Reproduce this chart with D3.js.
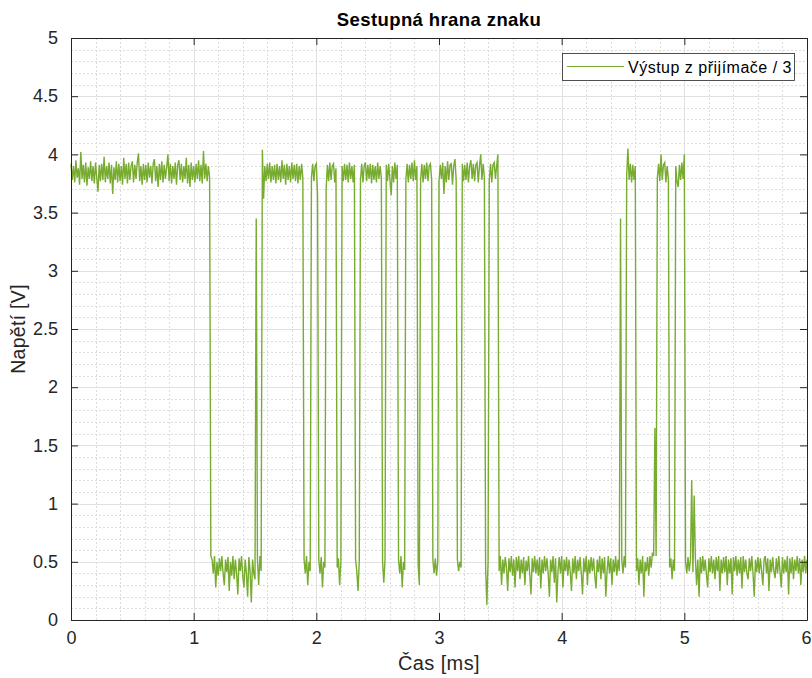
<!DOCTYPE html>
<html>
<head>
<meta charset="utf-8">
<script src="https://cdn.jsdelivr.net/npm/d3@7"></script>
<style>
  body { margin: 0; background: #fff; }
  svg { display: block; font-family: "Liberation Sans", Arial, sans-serif; }
</style>
</head>
<body>
<div id="chart"></div>
<script>
// vzorkovani osciloskopu (ms)
var casKrok = 0.01;

// Výstup z přijímače / 3, jeden vzorek na kazdych 0.01 ms (0 .. 6 ms)
var napeti = [
  // 0 - 1.13 ms, H
  3.92,3.78,3.90,3.76,3.95,3.80,3.88,3.74,4.02,3.79,
  3.91,3.76,3.93,3.73,3.89,3.79,3.94,3.77,3.90,3.75,
  3.93,3.80,3.68,3.91,3.77,3.92,3.78,3.98,3.76,3.90,
  3.79,3.93,3.75,3.91,3.66,3.89,3.78,3.94,3.76,3.92,
  3.77,3.90,3.74,3.97,3.79,3.92,3.75,3.93,3.78,3.90,
  3.94,3.76,3.91,3.79,3.93,4.01,3.77,3.90,3.74,3.92,
  3.78,3.91,3.76,3.93,3.80,3.90,3.75,3.92,3.96,3.77,
  3.90,3.72,3.92,3.78,3.94,3.76,3.91,3.79,3.89,4.00,
  3.77,3.92,3.75,3.90,3.79,3.93,3.74,3.91,3.95,3.78,
  3.92,3.76,3.90,3.79,3.97,3.75,3.91,3.72,3.93,3.78,
  3.90,3.76,3.92,3.79,3.95,3.77,3.91,3.75,4.03,3.79,
  3.92,3.77,3.90,3.80,
  // 1.14 - 1.55 ms, L (s jednou spickou)
  0.55,
  0.52,0.40,0.55,0.28,0.50,0.38,0.53,0.42,0.55,0.40,
  0.30,0.52,0.41,0.54,0.25,0.50,0.38,0.55,0.35,0.52,
  0.40,0.22,0.53,0.42,0.55,0.38,0.28,0.52,0.40,0.20,
  0.54,0.42,0.15,0.52,0.40,0.35,
  3.45,
  0.52,0.30,0.55,0.42,
  // 1.56 - 1.89 ms, H
  4.04,3.62,
  3.90,3.77,3.92,3.79,3.93,3.76,3.90,3.78,3.91,3.75,
  3.92,3.78,3.90,3.76,3.95,3.79,3.91,3.74,3.92,3.78,
  3.90,3.76,3.93,3.79,3.91,3.77,3.92,3.75,3.90,3.78,3.92,3.80,
  // 1.90 - 3.48 ms, datove bity
  0.52,0.40,0.55,0.30,0.50,0.42,
  3.80,3.92,3.77,3.90,3.92,3.65,
  0.52,0.40,0.54,0.28,0.50,0.45,
  3.70,3.91,3.77,3.93,3.78,3.90,3.92,3.76,3.88,
  0.45,0.53,0.30,0.50,
  3.90,3.77,3.92,3.78,3.91,3.76,3.93,3.79,3.90,3.76,3.91,
  0.52,0.42,0.25,0.50,
  3.78,3.92,3.76,3.90,3.93,3.77,3.91,3.79,3.92,3.75,3.91,3.78,3.90,3.76,3.93,3.79,3.90,3.80,
  0.50,0.32,0.52,
  3.91,3.77,3.92,3.78,3.65,3.90,3.76,3.93,3.79,3.91,
  0.52,0.40,0.55,0.28,0.50,0.43,
  3.78,3.92,3.76,3.91,3.79,3.93,3.77,3.95,3.78,3.90,
  0.48,0.30,
  3.78,3.92,3.76,3.91,3.79,3.93,3.77,3.90,3.92,3.78,
  0.52,0.40,0.53,0.38,0.50,
  3.77,3.91,3.79,3.93,3.66,3.90,3.76,3.94,3.78,3.91,3.92,3.74,3.90,3.96,3.78,
  0.52,0.42,0.50,0.45,
  3.92,3.77,3.91,3.78,3.93,3.76,3.90,3.95,3.79,3.92,3.77,3.91,3.93,3.76,3.90,4.00,3.78,3.92,3.80,
  0.45,0.13,0.50,
  3.78,3.92,3.76,3.91,3.93,3.79,3.90,4.00,
  // 3.49 - 4.52 ms, L
  0.42,0.55,0.30,0.52,0.40,0.54,0.45,0.25,0.53,0.41,
  0.55,0.38,0.52,0.28,0.54,0.42,0.55,0.35,0.52,0.40,
  0.54,0.30,0.51,0.42,0.55,0.39,0.22,0.53,0.41,0.55,
  0.40,0.52,0.38,0.54,0.27,0.52,0.40,0.55,0.42,0.53,
  0.40,0.20,0.52,0.41,0.55,0.32,0.53,0.15,0.42,0.54,
  0.40,0.55,0.28,0.52,0.42,0.54,0.38,0.52,0.41,0.25,
  0.53,0.40,0.55,0.35,0.52,0.42,0.54,0.40,0.22,0.53,
  0.41,0.55,0.30,0.52,0.40,0.54,0.42,0.53,0.38,0.27,
  0.52,0.41,0.55,0.35,0.53,0.40,0.54,0.20,0.42,0.55,
  0.40,0.53,0.30,0.52,0.41,0.55,0.38,0.52,0.42,
  3.45,
  0.52,0.40,0.55,0.45,
  // 4.53 - 5.00 ms
  3.82,4.05,3.78,3.92,3.76,3.91,3.78,3.90,
  0.42,0.53,0.30,0.52,0.40,0.55,0.20,0.50,0.42,0.54,0.38,0.55,0.45,0.58,0.55,
  1.65,0.55,
  3.80,3.92,3.77,4.00,3.78,3.91,3.93,3.76,3.90,3.79,
  0.45,0.53,0.35,0.52,0.42,
  3.90,3.77,3.72,3.91,3.78,3.93,3.79,4.00,
  // 5.01 - 6.00 ms, L
  0.50,0.40,0.54,0.42,0.52,1.20,0.41,1.07,0.53,0.30,
  0.52,0.20,0.54,0.40,0.55,0.42,0.52,0.39,0.28,0.53,
  0.41,0.55,0.40,0.52,0.35,0.54,0.42,0.55,0.25,0.52,
  0.40,0.54,0.41,0.55,0.30,0.52,0.40,0.53,0.22,0.54,
  0.42,0.55,0.38,0.52,0.40,0.54,0.27,0.55,0.41,0.52,
  0.40,0.35,0.53,0.42,0.55,0.40,0.20,0.52,0.41,0.54,
  0.40,0.53,0.42,0.30,0.52,0.55,0.40,0.53,0.25,0.52,
  0.41,0.54,0.42,0.36,0.53,0.40,0.55,0.42,0.28,0.54,
  0.40,0.52,0.41,0.55,0.22,0.53,0.40,0.54,0.35,0.52,
  0.42,0.55,0.40,0.53,0.30,0.52,0.41,0.55,0.40,0.52
];

var xTicks = [0, 1, 2, 3, 4, 5, 6];
var yTicks = [0, 0.5, 1, 1.5, 2, 2.5, 3, 3.5, 4, 4.5, 5];
var xMinor = [0.2, 0.4, 0.6, 0.8];   // uvnitr kazdeho dilku
var yMinor = [0.1, 0.2, 0.3, 0.4];

var titulek = "Sestupná hrana znaku";
var popisX = "Čas [ms]";
var popisY = "Napětí [V]";
var legenda = "Výstup z přijímače / 3";

function drawChart() {
    if (napeti.length !== 601) console.error("napeti: " + napeti.length + " vzorku");

    var margin = {top: 38, right: 5, bottom: 58, left: 71};
    var W = 812, H = 678;
    var width = W - margin.left - margin.right;
    var height = H - margin.top - margin.bottom;
    var axisColor = "#262626";
    var lineColor = "#77AC30";

    var svg = d3.select("#chart").append("svg")
        .attr("width", W)
        .attr("height", H);

    var g = svg.append("g")
        .attr("transform", "translate(" + margin.left + "," + margin.top + ")");

    var x = d3.scaleLinear().domain([0, 6]).range([0, width]);
    var y = d3.scaleLinear().domain([0, 5]).range([height, 0]);

    // vedlejsi mrizka
    var xm = [], ym = [];
    xTicks.slice(0, -1).forEach(function(t) { xMinor.forEach(function(m) { xm.push(t + m); }); });
    yTicks.slice(0, -1).forEach(function(t) { yMinor.forEach(function(m) { ym.push(t + m); }); });

    g.append("g").selectAll("line").data(xm).enter().append("line")
        .attr("x1", function(d) { return Math.round(x(d)) + 0.5; })
        .attr("x2", function(d) { return Math.round(x(d)) + 0.5; })
        .attr("y1", 0).attr("y2", height)
        .attr("stroke", "#dcdcdc").attr("stroke-dasharray", "2,2");
    g.append("g").selectAll("line").data(ym).enter().append("line")
        .attr("y1", function(d) { return Math.round(y(d)) + 0.5; })
        .attr("y2", function(d) { return Math.round(y(d)) + 0.5; })
        .attr("x1", 0).attr("x2", width)
        .attr("stroke", "#dcdcdc").attr("stroke-dasharray", "2,2");

    // hlavni mrizka
    g.append("g").selectAll("line").data(xTicks).enter().append("line")
        .attr("x1", function(d) { return Math.round(x(d)) + 0.5; })
        .attr("x2", function(d) { return Math.round(x(d)) + 0.5; })
        .attr("y1", 0).attr("y2", height)
        .attr("stroke", "#e1e1e1");
    g.append("g").selectAll("line").data(yTicks).enter().append("line")
        .attr("y1", function(d) { return Math.round(y(d)) + 0.5; })
        .attr("y2", function(d) { return Math.round(y(d)) + 0.5; })
        .attr("x1", 0).attr("x2", width)
        .attr("stroke", "#e1e1e1");

    // prubeh
    var line = d3.line()
        .x(function(d, i) { return x(i * casKrok); })
        .y(function(d) { return y(d); });

    g.append("path")
        .datum(napeti)
        .attr("fill", "none")
        .attr("stroke", lineColor)
        .attr("stroke-width", 1.4)
        .attr("d", line);

    // osy (ticky dovnitr, box)
    var fmt = d3.format("~g");
    var ax = [
        {gen: d3.axisBottom(x).tickValues(xTicks).tickFormat(fmt).tickPadding(11), tr: "translate(0," + height + ")"},
        {gen: d3.axisTop(x).tickValues(xTicks).tickFormat(""), tr: "translate(0,0)"},
        {gen: d3.axisLeft(y).tickValues(yTicks).tickFormat(fmt).tickPadding(13), tr: "translate(0,0)"},
        {gen: d3.axisRight(y).tickValues(yTicks).tickFormat(""), tr: "translate(" + width + ",0)"}
    ];
    ax.forEach(function(a) {
        var ag = g.append("g")
            .attr("transform", a.tr)
            .call(a.gen.tickSizeInner(-7).tickSizeOuter(0));
        ag.select(".domain").attr("stroke", axisColor);
        ag.selectAll(".tick line").attr("stroke", axisColor);
        ag.selectAll("text")
            .attr("fill", axisColor)
            .style("font-size", "18px")
            .style("font-family", "'Liberation Sans', Arial, sans-serif");
    });
    // posledni popisek "6" at nepretece okraj
    g.selectAll(".tick text").filter(function(d) { return d === 6; }).attr("dx", "-1px");

    // popisky
    svg.append("text")
        .attr("x", margin.left + width / 2)
        .attr("y", 26)
        .attr("text-anchor", "middle")
        .style("font-size", "18.5px")
        .style("font-weight", "bold")
        .style("letter-spacing", "0.4px")
        .attr("fill", "#000")
        .text(titulek);

    svg.append("text")
        .attr("x", margin.left + width / 2)
        .attr("y", 670)
        .attr("text-anchor", "middle")
        .style("font-size", "20px")
        .style("letter-spacing", "0.4px")
        .attr("fill", axisColor)
        .text(popisX);

    svg.append("text")
        .attr("transform", "translate(25," + (margin.top + height / 2) + ") rotate(-90)")
        .attr("text-anchor", "middle")
        .style("font-size", "19.5px")
        .style("letter-spacing", "0.3px")
        .attr("fill", axisColor)
        .text(popisY);

    // legenda
    var lg = svg.append("g").attr("transform", "translate(562,53)");
    lg.append("rect")
        .attr("x", 0.5).attr("y", 0.5)
        .attr("width", 232).attr("height", 27)
        .attr("fill", "#fff")
        .attr("stroke", axisColor)
        .attr("stroke-width", 0.8);
    lg.append("line")
        .attr("x1", 5).attr("x2", 62)
        .attr("y1", 13.5).attr("y2", 13.5)
        .attr("stroke", lineColor);
    lg.append("text")
        .attr("x", 66).attr("y", 19.5)
        .style("font-size", "16px")
        .style("letter-spacing", "0.5px")
        .attr("fill", "#000")
        .text(legenda);
}

drawChart();
</script>
</body>
</html>
